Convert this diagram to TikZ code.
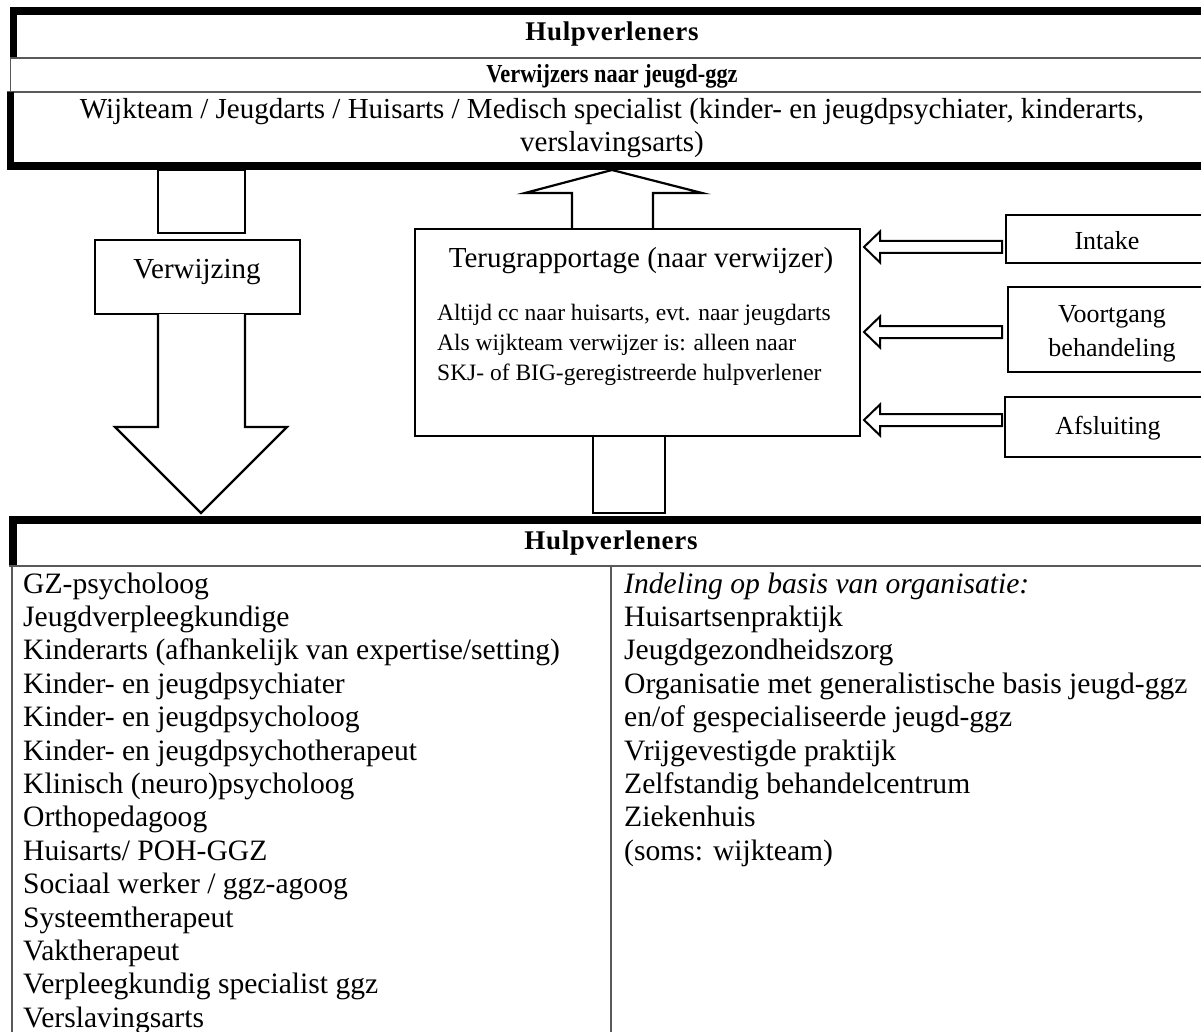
\documentclass[tikz,border=0pt]{standalone}
\usepackage{fontspec}
\setmainfont{Liberation Serif}
\begin{document}
\begin{tikzpicture}[x=1pt,y=-1pt,
  thinrule/.style={line width=1.5pt, draw=black!65},
  boxline/.style={draw=black, line width=2.2pt},
  blockarrow/.style={draw=black, line width=2.2pt, fill=white, line join=miter},
  smallarrow/.style={draw=black, line width=2pt, fill=white, line join=miter},
  boxnode/.style={boxline, inner sep=0pt, fill=white},
  reg/.style={font=\fontsize{29}{33.4}\selectfont, inner sep=0pt},
  lst/.style={font=\fontsize{29.6}{33.4}\selectfont, inner sep=0pt},
  small/.style={font=\fontsize{23.5}{29.5}\selectfont, inner sep=0pt},
  side/.style={font=\fontsize{26}{33}\selectfont, inner sep=0pt},
  head/.style={font=\fontsize{26}{28}\selectfont\bfseries, inner sep=0pt, xscale=0.86},
  headsp/.style={font=\fontsize{27}{28}\selectfont\bfseries\addfontfeatures{LetterSpace=2.5}, inner sep=0pt}
]
\useasboundingbox (0,0) rectangle (1201,1032);
\fill[white] (0,0) rectangle (1201,1032);

% ---------- top box ----------
\fill[black] (10,7) rectangle (1215,15);
\fill[black] (10,7) rectangle (17,58);
\draw[thinrule] (10,58) -- (1215,58);
\draw[thinrule] (10.7,58) -- (10.7,92);
\draw[thinrule] (7,92) -- (1215,92);
\fill[black] (7,92) rectangle (14,170);
\fill[black] (7,162) rectangle (1215,170);

\node[headsp, anchor=base] (toph) at (612,41) {Hulpverleners};
\node[head, anchor=base] (verwh) at (612,83) {Verwijzers naar jeugd-ggz};
\node[reg, anchor=base] (wijk1) at (612,119) {Wijkteam / Jeugdarts / Huisarts / Medisch specialist (kinder- en jeugdpsychiater, kinderarts,};
\node[reg, anchor=base] (wijk2) at (612,152) {verslavingsarts)};

% ---------- Verwijzing arrow ----------
\draw[boxline, fill=white] (158,170) rectangle (245,233);
\node[boxnode, minimum width=205pt, minimum height=74pt] (verwbox) at (197.5,277) {};
\node[reg, anchor=base] (verwtxt) at (197,278) {Verwijzing};
\draw[blockarrow] (158,314) -- (158,427) -- (115,427) -- (201,513) -- (287,427) -- (245,427) -- (245,314);

% ---------- Terugrapportage ----------
\draw[blockarrow] (572,229) -- (572,193) -- (525,193) -- (612,170) -- (702,193) -- (653,193) -- (653,229);
\node[boxnode, minimum width=445pt, minimum height=207pt] (terug) at (637.5,332.5) {};
\node[reg, anchor=base] (terugt) at (641,268) {Terugrapportage (naar verwijzer)};
\node[small, anchor=base west] (t1) at (437,320) {Altijd cc naar huisarts, evt. naar jeugdarts};
\node[small, anchor=base west] (t2) at (437,350) {Als wijkteam verwijzer is: alleen naar};
\node[small, anchor=base west] (t3) at (437,380) {SKJ- of BIG-geregistreerde hulpverlener};
\draw[boxline, fill=white] (593,436) rectangle (665,513);

% ---------- right boxes ----------
\node[boxnode, minimum width=209pt, minimum height=48pt] (intake) at (1110.5,239) {};
\node[side, anchor=base] (intaket) at (1107,250) {Intake};
\node[boxnode, minimum width=207pt, minimum height=85pt] (voort) at (1111.5,329.5) {};
\node[side, anchor=base] (voort1) at (1112,322) {Voortgang};
\node[side, anchor=base] (voort2) at (1112,356) {behandeling};
\node[boxnode, minimum width=210pt, minimum height=60pt] (afsl) at (1110,427) {};
\node[side, anchor=base] (afslt) at (1108,434) {Afsluiting};

\foreach \yy in {247,332,420}{
  \draw[smallarrow] (1002,\yy-6) -- (880,\yy-6) -- (880,\yy-15.5) -- (864,\yy) -- (880,\yy+15.5) -- (880,\yy+6) -- (1002,\yy+6) -- cycle;
}

% ---------- bottom box ----------
\fill[black] (9,516) rectangle (1215,524);
\fill[black] (9,516) rectangle (17,566);
\draw[thinrule] (9,566) -- (1215,566);
\draw[thinrule] (12,566) -- (12,1040);
\draw[thinrule] (611,566) -- (611,1040);
\node[headsp, anchor=base] (both) at (611,549) {Hulpverleners};

\foreach \t [count=\i from 0] in {GZ-psycholoog, Jeugdverpleegkundige, Kinderarts (afhankelijk van expertise/setting), Kinder- en jeugdpsychiater, Kinder- en jeugdpsycholoog, Kinder- en jeugdpsychotherapeut, Klinisch (neuro)psycholoog, Orthopedagoog, Huisarts/ POH-GGZ, Sociaal werker / ggz-agoog, Systeemtherapeut, Vaktherapeut, Verpleegkundig specialist ggz, Verslavingsarts}{
  \node[lst, anchor=base west] (L\i) at (23,593+\i*33.4) {\t};
}
\node[lst, anchor=base west] (R0) at (624,593) {\itshape Indeling op basis van organisatie:};
\foreach \t [count=\i from 1] in {Huisartsenpraktijk, Jeugdgezondheidszorg, Organisatie met generalistische basis jeugd-ggz, en/of gespecialiseerde jeugd-ggz, Vrijgevestigde praktijk, Zelfstandig behandelcentrum, Ziekenhuis, (soms: wijkteam)}{
  \node[lst, anchor=base west] (R\i) at (624,593+\i*33.4) {\t};
}
\end{tikzpicture}
\end{document}
